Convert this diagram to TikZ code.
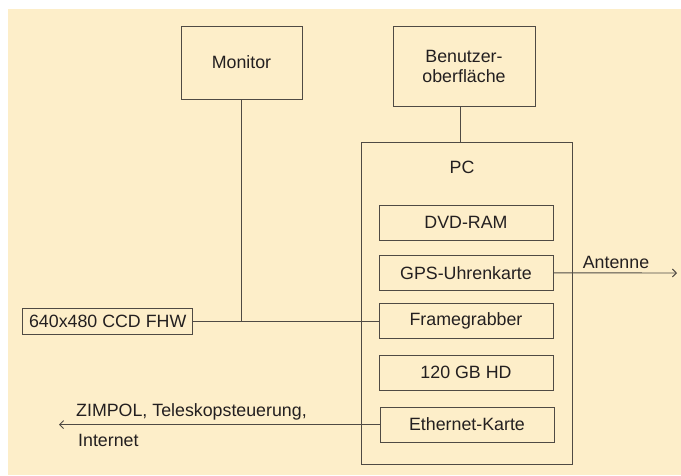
\documentclass[tikz,border=0pt]{standalone}
\usepackage{fontspec}
\setmainfont{Liberation Sans}
\usetikzlibrary{arrows.meta}
\definecolor{bgyellow}{HTML}{FDEEC9}
\definecolor{linec}{HTML}{4F4A44}
\definecolor{textc}{HTML}{231F20}
\tikzset{
  box/.style={draw=linec, line width=0.9pt, inner sep=0pt, text=textc,
    font=\fontsize{17.8}{20}\selectfont, align=center},
  txt/.style={inner sep=0pt, text=textc, font=\fontsize{17.8}{20}\selectfont},
  conn/.style={draw=linec, line width=0.9pt},
  arr/.style={conn, -{Straight Barb[length=4pt,width=8pt,line width=0.9pt]}}
}
\begin{document}
\begin{tikzpicture}[x=1pt,y=-1pt]
\useasboundingbox (0,0) rectangle (681,475);
\fill[white] (0,0) rectangle (681,475);
\fill[bgyellow] (8,9) rectangle (681,475);

\node[box, minimum width=121pt, minimum height=73pt] (mon) at (241.5,62.5) {Monitor};
\node[box, minimum width=142pt, minimum height=80pt] (ben) at (464,66) {Benutzer-\\oberfläche};
\node[box, minimum width=211pt, minimum height=322pt] (pc) at (467.4,303) {};
\node[txt] (pclab) at (462,167) {PC};

\node[box, minimum width=174pt, minimum height=35pt] (dvd) at (466,222.5) {DVD-RAM};
\node[box, minimum width=174pt, minimum height=35pt] (gps) at (466,272.8) {GPS-Uhrenkarte};
\node[box, minimum width=174pt, minimum height=35pt] (frame) at (466,320.8) {Framegrabber};
\node[box, minimum width=174pt, minimum height=35pt] (hd) at (466,372.8) {120 GB HD};
\node[box, minimum width=174pt, minimum height=35pt] (eth) at (467,424.6) {Ethernet-Karte};

\node[box, minimum width=170pt, minimum height=26pt] (ccd) at (107.7,321) {640x480 CCD FHW};

\draw[conn] (ccd.east) -- (ccd.east -| frame.west);
\draw[conn] (mon.south) -- (mon.south |- ccd.east);
\draw[conn] ([xshift=-4pt]ben.south) -- ([xshift=-4pt]ben.south |- pc.north);

\coordinate (ant) at (677,273);
\draw[arr] (gps.east) -- (ant);
\node[txt] (antlab) at (616,262) {Antenne};

\coordinate (zim) at (59,424.6);
\draw[arr] (eth.west) -- (zim);
\node[txt, anchor=west] (zimlab) at (76,412) {ZIMPOL, Teleskopsteuerung,};
\node[txt, anchor=west] (netlab) at (78,440) {Internet};
\end{tikzpicture}
\end{document}
